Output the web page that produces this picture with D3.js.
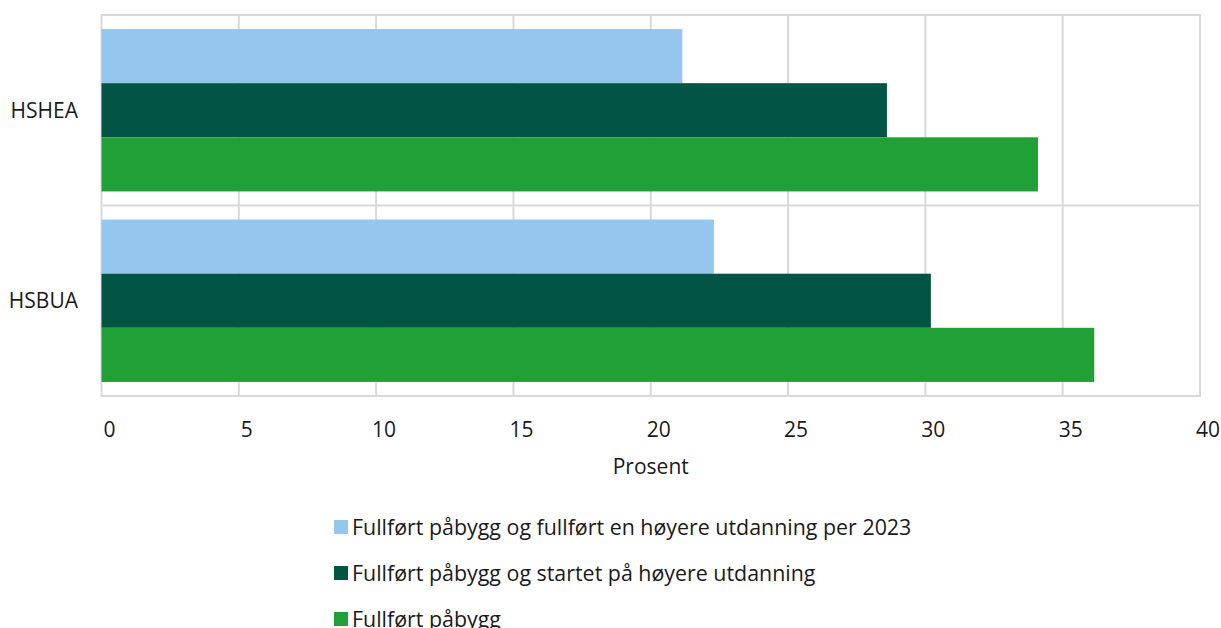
<!DOCTYPE html>
<html>
<head>
<meta charset="utf-8">
<script src="https://cdn.jsdelivr.net/npm/d3@7"></script>
<style>
  body { margin: 0; background: #fff; }
  svg text { font-family: "Open Sans", sans-serif; fill: #1a1a1a; }
</style>
</head>
<body>
<div id="chart"></div>
<script>
(function() {

    // Chart data
    var categories = ["HSHEA", "HSBUA"];
    var seriesNames = [
        "Fullført påbygg og fullført en høyere utdanning per 2023",
        "Fullført påbygg og startet på høyere utdanning",
        "Fullført påbygg"
    ];
    var seriesColors = ["#95c6ec", "#025444", "#21a038"];
    var completedHigher = [21.15, 22.3];
    var startedHigher = [28.6, 30.2];
    var completedAddon = [34.1, 36.15];
    var xTicks = [0, 5, 10, 15, 20, 25, 30, 35, 40];

    var seriesValues = [completedHigher, startedHigher, completedAddon];

    var width = 1221;
    var height = 628;
    var margin = { left: 101.5, right: 21, top: 15, bottom: 232 };

    var svg = d3.select("#chart")
        .append("svg")
        .attr("width", width)
        .attr("height", height);

    var x = d3.scaleLinear()
        .domain([0, 40])
        .range([margin.left, width - margin.right]);

    var y = d3.scaleBand()
        .domain(categories)
        .range([margin.top, height - margin.bottom]);

    var inner = d3.scaleBand()
        .domain(d3.range(seriesNames.length))
        .range([0, y.bandwidth()])
        .paddingOuter(0.26)
        .paddingInner(0);

    // vertical gridlines
    svg.append("g")
        .selectAll("line")
        .data(xTicks)
        .enter().append("line")
        .attr("x1", d => x(d))
        .attr("x2", d => x(d))
        .attr("y1", margin.top)
        .attr("y2", height - margin.bottom)
        .attr("stroke", "#d9d9d9")
        .attr("stroke-width", 2);

    // horizontal lines at category boundaries
    var bounds = categories.map(c => y(c)).concat([height - margin.bottom]);
    svg.append("g")
        .selectAll("line")
        .data(bounds)
        .enter().append("line")
        .attr("x1", margin.left - 1)
        .attr("x2", width - margin.right + 1)
        .attr("y1", d => d)
        .attr("y2", d => d)
        .attr("stroke", "#d9d9d9")
        .attr("stroke-width", 2);

    // bars
    seriesValues.forEach(function(values, si) {
        svg.append("g")
            .selectAll("rect")
            .data(values)
            .enter().append("rect")
            .attr("x", x(0))
            .attr("y", (d, i) => y(categories[i]) + inner(si))
            .attr("width", d => x(d) - x(0))
            .attr("height", inner.bandwidth())
            .attr("fill", seriesColors[si]);
    });

    // category labels
    svg.append("g")
        .selectAll("text")
        .data(categories)
        .enter().append("text")
        .attr("x", 78)
        .attr("y", d => y(d) + y.bandwidth() / 2)
        .attr("dy", "0.35em")
        .attr("text-anchor", "end")
        .style("font-size", "21px")
        .text(d => d);

    // x tick labels
    svg.append("g")
        .selectAll("text")
        .data(xTicks)
        .enter().append("text")
        .attr("x", d => x(d) + 8)
        .attr("y", 437)
        .attr("text-anchor", "middle")
        .style("font-size", "21px")
        .text(d => d);

    svg.append("text")
        .attr("x", (x(0) + x(40)) / 2)
        .attr("y", 474)
        .attr("text-anchor", "middle")
        .style("font-size", "21px")
        .text("Prosent");

    // legend
    var legend = svg.append("g")
        .selectAll("g")
        .data(seriesNames)
        .enter().append("g")
        .attr("transform", (d, i) => "translate(334," + (527 + i * 46) + ")");

    legend.append("rect")
        .attr("x", 0)
        .attr("y", -7)
        .attr("width", 14)
        .attr("height", 14)
        .attr("fill", (d, i) => seriesColors[i]);

    legend.append("text")
        .attr("x", 18)
        .attr("y", 0)
        .attr("dy", "0.35em")
        .style("font-size", "21.4px")
        .text(d => d);

})();
</script>
</body>
</html>
